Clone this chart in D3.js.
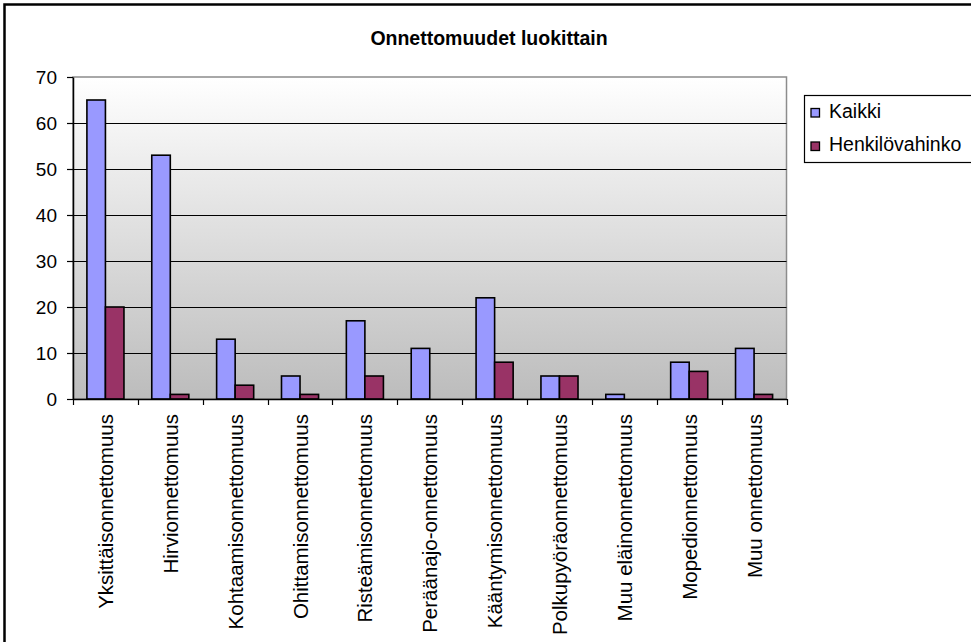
<!DOCTYPE html>
<html>
<head>
<meta charset="utf-8">
<script src="https://cdn.jsdelivr.net/npm/d3@7"></script>
<style>
  html, body { margin: 0; padding: 0; background: #fff; }
  svg { display: block; font-family: "Liberation Sans", Arial, sans-serif; }
</style>
</head>
<body>
<svg id="chart" width="971" height="642"></svg>
<script>
const title = "Onnettomuudet luokittain";
const categories = [
  "Yksittäisonnettomuus", "Hirvionnettomuus", "Kohtaamisonnettomuus",
  "Ohittamisonnettomuus", "Risteämisonnettomuus", "Peräänajo-onnettomuus",
  "Kääntymisonnettomuus", "Polkupyöräonnettomuus", "Muu eläinonnettomuus",
  "Mopedionnettomuus", "Muu onnettomuus"
];
const seriesNames = ["Kaikki", "Henkilövahinko"];
const kaikki = [65, 53, 13, 5, 17, 11, 22, 5, 1, 8, 11];
const henkilovahinko = [20, 1, 3, 1, 5, 0, 8, 5, 0, 6, 1];
const yTicks = [0, 10, 20, 30, 40, 50, 60, 70];
const colors = ["#9999FF", "#993366"];

const svg = d3.select("#chart");
const plot = { left: 73, right: 786.5, top: 77, bottom: 399 };

// outer chart border
svg.append("rect").attr("x", 4.5).attr("y", 4.5).attr("width", 990).attr("height", 660)
  .attr("fill", "#fff").attr("stroke", "#000").attr("stroke-width", 2.5);

// background gradient
const defs = svg.append("defs");
const grad = defs.append("linearGradient").attr("id", "bg").attr("x1", 0).attr("y1", 0).attr("x2", 0).attr("y2", 1);
grad.append("stop").attr("offset", "0%").attr("stop-color", "#ffffff");
grad.append("stop").attr("offset", "100%").attr("stop-color", "#bcbcbc");

const x0 = d3.scaleBand().domain(categories).range([plot.left, plot.right]).padding(0);
const bw = x0.bandwidth();
const gap = bw * 0.75 / 3.5;
const x1 = d3.scaleBand().domain(seriesNames).range([gap, bw - gap]).padding(0);
const y = d3.scaleLinear().domain([0, 70]).range([plot.bottom, plot.top]);

svg.append("rect").attr("x", plot.left).attr("y", plot.top)
  .attr("width", plot.right - plot.left).attr("height", plot.bottom - plot.top)
  .attr("fill", "url(#bg)").attr("stroke", "#8c8c8c").attr("stroke-width", 1.5);

// gridlines
svg.append("g").selectAll("line").data(yTicks.filter(v => v > 0 && v < 70)).join("line")
  .attr("x1", plot.left).attr("x2", plot.right)
  .attr("y1", d => Math.round(y(d)) + 0.5).attr("y2", d => Math.round(y(d)) + 0.5)
  .attr("stroke", "#000").attr("stroke-width", 1);

// bars
const seriesData = [kaikki, henkilovahinko];
const groups = svg.append("g").selectAll("g").data(seriesData).join("g")
  .attr("fill", (d, i) => colors[i]);
groups.each(function(vals, si) {
  d3.select(this).selectAll("rect").data(vals).join("rect")
    .attr("x", (d, i) => x0(categories[i]) + x1(seriesNames[si]))
    .attr("y", d => y(d))
    .attr("width", x1.bandwidth())
    .attr("height", d => y(0) - y(d))
    .attr("stroke", "#000").attr("stroke-width", 1.6);
});

// y axis
const yAxis = svg.append("g").attr("transform", `translate(${plot.left},0)`)
  .call(d3.axisLeft(y).tickValues(yTicks).tickSize(6).tickSizeOuter(0).tickPadding(10));
yAxis.select(".domain").attr("stroke", "#000").attr("stroke-width", 1.5);
yAxis.selectAll(".tick line").attr("stroke", "#000").attr("stroke-width", 1.2);
yAxis.selectAll("text").attr("font-size", 19).attr("fill", "#000")
  .attr("font-family", "Liberation Sans, Arial, sans-serif");

// x axis
const xAxis = svg.append("g").attr("transform", `translate(0,${plot.bottom})`)
  .call(d3.axisBottom(x0).tickSize(0).tickSizeOuter(0).tickPadding(0));
xAxis.select(".domain").attr("stroke", "#000").attr("stroke-width", 1.5);
xAxis.selectAll(".tick text")
  .attr("font-size", 20.5).attr("fill", "#000")
  .attr("font-family", "Liberation Sans, Arial, sans-serif")
  .attr("text-anchor", "end")
  .attr("dy", null)
  .attr("y", 0)
  .attr("transform", "translate(7.5,15) rotate(-90)");

// boundary ticks
const bounds = categories.map(c => x0(c)).concat([plot.right]);
svg.append("g").selectAll("line").data(bounds).join("line")
  .attr("x1", d => Math.round(d) + 0.5).attr("x2", d => Math.round(d) + 0.5)
  .attr("y1", plot.bottom).attr("y2", plot.bottom + 6)
  .attr("stroke", "#000").attr("stroke-width", 1.2);

// title
svg.append("text").attr("x", 489).attr("y", 45).attr("text-anchor", "middle")
  .attr("font-size", 19.5).attr("font-weight", "bold").attr("fill", "#000").text(title);

// legend
const lg = svg.append("g");
lg.append("rect").attr("x", 804.5).attr("y", 95.5).attr("width", 200).attr("height", 67)
  .attr("fill", "#fff").attr("stroke", "#000").attr("stroke-width", 1.2);
const items = lg.selectAll("g.item").data(seriesNames).join("g").attr("class", "item")
  .attr("transform", (d, i) => `translate(0,${i * 33.5})`);
items.append("rect").attr("x", 811).attr("y", 108.5).attr("width", 8.5).attr("height", 8.5)
  .attr("fill", (d, i) => colors[i]).attr("stroke", "#000").attr("stroke-width", 1.3);
items.append("text").attr("x", 829).attr("y", 117.5).attr("font-size", 19.5).attr("fill", "#000")
  .text(d => d);
</script>
</body>
</html>
